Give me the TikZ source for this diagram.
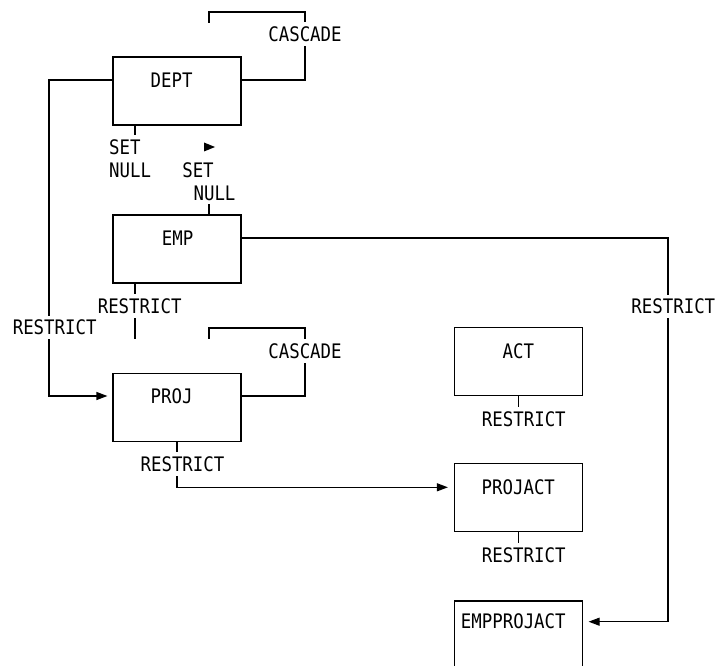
\documentclass[tikz,border=0pt]{standalone}
\usepackage{fontspec}
\newfontfamily\dmono[FakeStretch=0.87]{DejaVu Sans Mono}
\usetikzlibrary{arrows.meta,calc,backgrounds}
\tikzset{
 conn/.style={line width=1.2pt},
 arr/.style={conn,-{Triangle[length=11pt,width=8pt]}},
 box/.style={draw,line width=1.2pt,minimum width=128pt,minimum height=68pt,inner sep=0pt},
 txt/.style={font=\dmono\fontsize{20}{23}\selectfont,inner sep=0pt},
 lbl/.style={txt,fill=white,inner xsep=1pt,inner ysep=4pt},
}
\begin{document}
\begin{tikzpicture}[x=1pt,y=-1pt]
\useasboundingbox (0,0) rectangle (715,666);
% boxes
\node[box] (dept) at (177,91) {};
\node[txt] (deptt) at (171.7,80) {DEPT};
\node[box] (emp) at (177,249) {};
\node[txt] (empt) at (177.7,238) {EMP};
\node[box] (proj) at (177,407.5) {};
\node[txt] (projt) at (171.7,396) {PROJ};
\node[box] (act) at (518.5,361.7) {};
\node[txt] (actt) at (518.3,351) {ACT};
\node[box] (projact) at (518.5,497.8) {};
\node[txt] (projactt) at (518.3,487.3) {PROJACT};
\node[box] (empprojact) at (518.5,635) {};
\node[txt] (empprojactt) at (513.3,621.7) {EMPPROJACT};
% labels
\node[lbl] (dcas) at (305,34) {CASCADE};
\node[lbl] (drest) at (54.7,327.3) {RESTRICT};
\node[lbl,align=left,anchor=west] (dset) at (108,158.5) {SET\\NULL};
\node[lbl] (eset) at (198,170) {SET};
\node[lbl] (enull) at (214.5,193) {NULL};
\node[lbl] (erest) at (139.7,306) {RESTRICT};
\node[lbl] (pcas) at (305,351) {CASCADE};
\node[lbl] (prest) at (182.5,464) {RESTRICT};
\node[lbl] (eprest) at (673.3,306.7) {RESTRICT};
\node[lbl] (arest) at (523.8,419) {RESTRICT};
\node[lbl] (parest) at (523.7,555) {RESTRICT};
% coordinates
\coordinate (dc1) at (305,12);
\coordinate (dc2) at (209,23);
\coordinate (dl) at (49,0);
\coordinate (x135) at (135,0);
\coordinate (x209) at (209,0);
\coordinate (eend) at (135,339);
\coordinate (pc1) at (305,328);
\coordinate (pc2) at (209,339);
\coordinate (er) at (668,0);
% small stray arrowhead
\fill (204,142.5) -- (215,147) -- (204,151.5) -- cycle;
\begin{pgfonlayer}{background}
\draw[conn] (dept.east |- deptt) -| (dc1) -| (dc2);
\draw[arr,shorten >=5pt] (dept.west |- deptt) -| (dl |- projt) -- (proj.west |- projt);
\draw[conn] (dept.south -| x135) -- (x135 |- dset);
\draw[conn] (emp.north -| x209) -- (x209 |- enull);
\draw[conn] (emp.south -| x135) -- (eend);
\draw[conn] (proj.east |- projt) -| (pc1) -| (pc2);
\draw[arr,shorten >=6pt] (proj.south) |- (projact.west |- projactt);
\draw[arr,shorten >=5.5pt] (emp.east |- empt) -| (er |- empprojactt) -- (empprojact.east |- empprojactt);
\draw[conn] (act.south) -- (act.south |- arest);
\draw[conn] (projact.south) -- (projact.south |- parest);
\end{pgfonlayer}
\end{tikzpicture}
\end{document}
